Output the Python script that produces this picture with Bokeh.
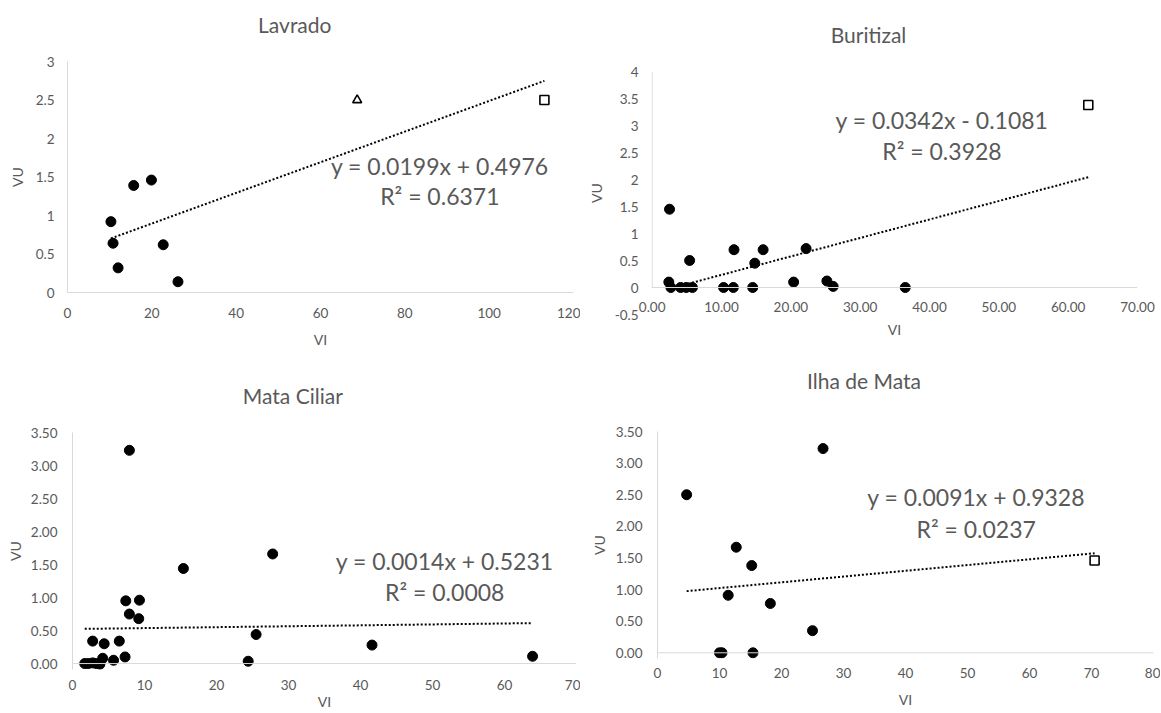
from bokeh.plotting import figure
from bokeh.layouts import column, row
from bokeh.models import FixedTicker, Label, Span, Range1d, LinearAxis
from bokeh.embed import file_html
from bokeh.resources import INLINE

FONT = "Lato"
TXT = "#595959"
AXC = "#d9d9d9"

# ---------------- data ----------------
# Lavrado
lav_vi = [10.3, 10.8, 12.0, 15.7, 19.9, 22.7, 26.2]
lav_vu = [0.92, 0.64, 0.32, 1.39, 1.46, 0.62, 0.14]
lav_tri_vi = [68.7]
lav_tri_vu = [2.50]
lav_sq_vi = [113.1]
lav_sq_vu = [2.50]
lav_fit = [0.0199, 0.4976]
lav_eq = ["y = 0.0199x + 0.4976", "R² = 0.6371"]
lav_xticks = [0, 20, 40, 60, 80, 100, 120]
lav_xlabels = ["0", "20", "40", "60", "80", "100", "120"]
lav_yticks = [0, 0.5, 1, 1.5, 2, 2.5, 3]
lav_ylabels = ["0", "0.5", "1", "1.5", "2", "2.5", "3"]

# Buritizal
bur_vi = [2.5, 2.4, 2.7, 4.1, 4.9, 5.8, 5.4, 10.3, 11.7, 11.8, 14.5, 14.8, 16.0, 20.4, 22.2, 25.2, 26.1, 36.5]
bur_vu = [1.45, 0.10, 0.0, 0.0, 0.0, 0.0, 0.50, 0.0, 0.0, 0.70, 0.0, 0.45, 0.70, 0.10, 0.72, 0.12, 0.02, 0.0]
bur_sq_vi = [62.9]
bur_sq_vu = [3.38]
bur_fit = [0.0342, -0.1081]
bur_eq = ["y = 0.0342x - 0.1081", "R² = 0.3928"]
bur_xticks = [0, 10, 20, 30, 40, 50, 60, 70]
bur_xlabels = ["0.00", "10.00", "20.00", "30.00", "40.00", "50.00", "60.00", "70.00"]
bur_yticks = [-0.5, 0, 0.5, 1, 1.5, 2, 2.5, 3, 3.5, 4]
bur_ylabels = ["-0.5", "0", "0.5", "1", "1.5", "2", "2.5", "3", "3.5", "4"]

# Mata Ciliar
mc_vi = [1.7, 2.2, 2.8, 3.3, 3.8, 4.2, 2.8, 4.4, 5.7, 6.5, 7.3, 7.4, 7.9, 7.9, 9.3, 9.2, 15.4, 24.4, 25.5, 27.8, 41.6, 63.9]
mc_vu = [0.0, 0.0, 0.01, 0.0, -0.01, 0.08, 0.34, 0.30, 0.05, 0.34, 0.10, 0.95, 0.75, 3.23, 0.96, 0.68, 1.44, 0.035, 0.44, 1.66, 0.28, 0.11]
mc_fit = [0.0014, 0.5231]
mc_eq = ["y = 0.0014x + 0.5231", "R² = 0.0008"]
mc_xticks = [0, 10, 20, 30, 40, 50, 60, 70]
mc_xlabels = ["0", "10", "20", "30", "40", "50", "60", "70"]
mc_yticks = [0, 0.5, 1, 1.5, 2, 2.5, 3, 3.5]
mc_ylabels = ["0.00", "0.50", "1.00", "1.50", "2.00", "2.50", "3.00", "3.50"]

# Ilha de Mata
il_vi = [4.7, 10.0, 10.4, 11.4, 12.7, 15.2, 15.4, 18.2, 25.0, 26.7]
il_vu = [2.50, 0.0, 0.0, 0.91, 1.67, 1.38, 0.0, 0.78, 0.35, 3.23]
il_sq_vi = [70.5]
il_sq_vu = [1.46]
il_fit = [0.0091, 0.9328]
il_eq = ["y = 0.0091x + 0.9328", "R² = 0.0237"]
il_xticks = [0, 10, 20, 30, 40, 50, 60, 70, 80]
il_xlabels = ["0", "10", "20", "30", "40", "50", "60", "70", "80"]
il_yticks = [0, 0.5, 1, 1.5, 2, 2.5, 3, 3.5]
il_ylabels = ["0.00", "0.50", "1.00", "1.50", "2.00", "2.50", "3.00", "3.50"]


def panel(title, tx, tstd, w, h, mb, xr, yr, xt, xl, yt, yl, xstd, xals, ystd, yals):
    p = figure(width=w, height=h, x_range=Range1d(*xr), y_range=Range1d(*yr),
               output_backend="svg", toolbar_location=None, tools="",
               min_border_left=mb[0], min_border_right=mb[1],
               min_border_top=mb[2], min_border_bottom=mb[3], frame_align=False)
    p.outline_line_color = None
    p.xgrid.visible = False
    p.ygrid.visible = False
    p.background_fill_color = "white"
    p.border_fill_color = "white"
    for ax, ticks, labels, std, als, lab in ((p.xaxis, xt, xl, xstd, xals, "VI"),
                                             (p.yaxis, yt, yl, ystd, yals, "VU")):
        ax.ticker = FixedTicker(ticks=ticks)
        ax.major_label_overrides = {t: s for t, s in zip(ticks, labels)}
        ax.major_tick_line_color = None
        ax.minor_tick_line_color = None
        ax.major_tick_out = 0
        ax.major_tick_in = 0
        ax.minor_tick_out = 0
        ax.minor_tick_in = 0
        ax.axis_line_color = AXC
        ax.axis_line_width = 1
        ax.major_label_text_font = FONT
        ax.major_label_text_font_size = "13.5px"
        ax.major_label_text_color = TXT
        ax.major_label_standoff = std
        ax.axis_label = lab
        ax.axis_label_text_font = FONT
        ax.axis_label_text_font_size = "14px"
        ax.axis_label_text_font_style = "normal"
        ax.axis_label_text_color = TXT
        ax.axis_label_standoff = als
    # chart title, drawn as the single tick label of an axis above the frame
    tax = LinearAxis(ticker=FixedTicker(ticks=[tx]), major_label_overrides={tx: title},
                     axis_line_color=None, major_tick_line_color=None,
                     minor_tick_line_color=None, major_tick_out=0, major_tick_in=0,
                     minor_tick_out=0, minor_tick_in=0, major_label_standoff=tstd,
                     major_label_text_font=FONT, major_label_text_font_size="21px",
                     major_label_text_color=TXT)
    p.add_layout(tax, "above")
    return p


def trend(p, xs, fit):
    x0, x1 = min(xs), max(xs)
    p.line([x0, x1], [fit[0] * x0 + fit[1], fit[0] * x1 + fit[1]],
           line_color="black", line_width=2, line_dash="2 2")


def dots(p, x, y):
    p.scatter(x, y, marker="circle", size=10, fill_color="black", line_color="black")


def opens(p, x, y, marker):
    p.scatter(x, y, marker=marker, size=9, fill_color="white", line_color="black", line_width=1.6)


def eq(p, lines, x, y1, y2):
    for txt, yy in zip(lines, (y1, y2)):
        p.add_layout(Label(x=x, y=yy, text=txt, text_align="center", text_baseline="middle",
                           text_font=FONT, text_font_size="23px", text_color=TXT))


# Lavrado
p1 = panel("Lavrado", 53.9, 25, 580, 358, (67, 7, 61, 66), (0, 120), (0, 3),
           lav_xticks, lav_xlabels, lav_yticks, lav_ylabels, 15, 10, 13, 7)
trend(p1, lav_vi + lav_tri_vi + lav_sq_vi, lav_fit)
dots(p1, lav_vi, lav_vu)
opens(p1, lav_tri_vi, lav_tri_vu, "triangle")
opens(p1, lav_sq_vi, lav_sq_vu, "square")
eq(p1, lav_eq, 88.3, 1.648, 1.257)

# Buritizal
p2 = panel("Buritizal", 31.2, 25, 580, 358, (71, 23, 71, 44), (-0.1, 70), (-0.5, 4),
           bur_xticks, bur_xlabels, bur_yticks, bur_ylabels, -13, 6, 13, 7)
p2.xaxis.axis_line_color = None
p2.yaxis.axis_line_color = None
p2.add_layout(Span(location=0, dimension="width", line_color=AXC, line_width=1))
p2.segment(x0=[bur_xticks[0]], y0=[0], x1=[bur_xticks[0]], y1=[bur_yticks[-1]],
           line_color=AXC, line_width=1)
trend(p2, bur_vi + bur_sq_vi, bur_fit)
dots(p2, bur_vi, bur_vu)
opens(p2, bur_sq_vi, bur_sq_vu, "square")
eq(p2, bur_eq, 41.8, 3.105, 2.536)

# Mata Ciliar
p3 = panel("Mata Ciliar", 30.6, 25, 580, 354, (72, 4, 74, 43), (0, 70), (-0.09, 3.5),
           mc_xticks, mc_xlabels, mc_yticks, mc_ylabels, 10, 0, 15, 4)
p3.xaxis.axis_line_color = None
p3.add_layout(Span(location=0, dimension="width", line_color=AXC, line_width=1))
trend(p3, mc_vi, mc_fit)
dots(p3, mc_vi, mc_vu)
eq(p3, mc_eq, 51.7, 1.554, 1.089)

# Ilha de Mata
p4 = panel("Ilha de Mata", 33.3, 39, 580, 354, (77, 7, 73, 54), (0, 80), (-0.09, 3.5),
           il_xticks, il_xlabels, il_yticks, il_ylabels, 9, 10, 15, 5)
p4.xaxis.axis_line_color = None
p4.add_layout(Span(location=0, dimension="width", line_color=AXC, line_width=1))
trend(p4, il_vi + il_sq_vi, il_fit)
dots(p4, il_vi, il_vu)
opens(p4, il_sq_vi, il_sq_vu, "square")
eq(p4, il_eq, 51.4, 2.462, 1.962)

layout = column(row(p1, p2), row(p3, p4))
open("out.html", "w").write(file_html(layout, INLINE))
